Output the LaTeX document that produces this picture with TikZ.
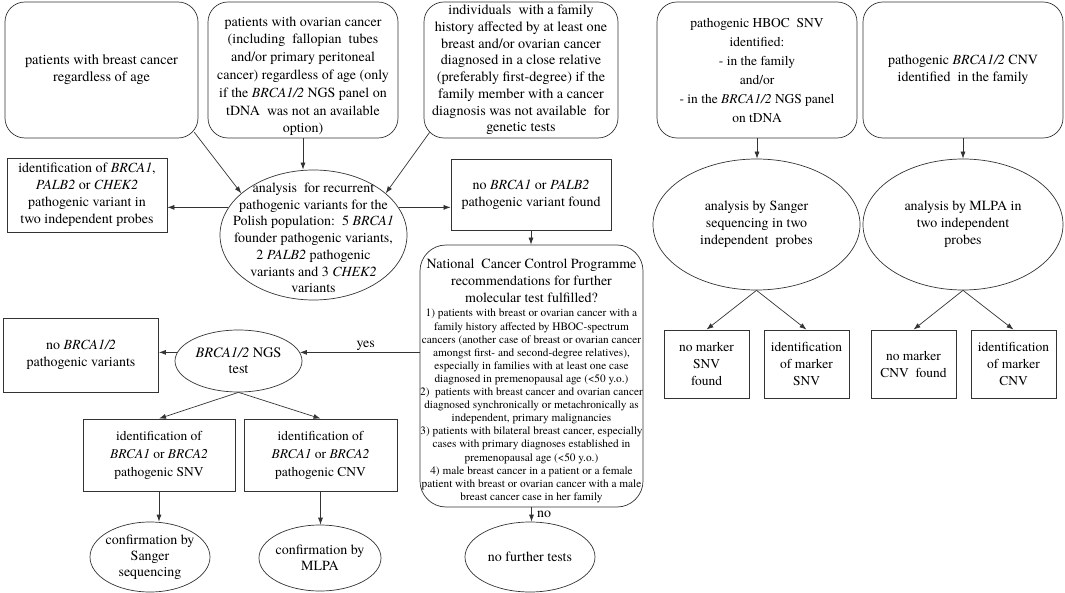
\documentclass[tikz,border=0pt]{standalone}
\usepackage{fontspec}
\IfFontExistsTF{texgyretermes-regular.otf}
  {\setmainfont{texgyretermes-regular.otf}[ItalicFont=texgyretermes-italic.otf, BoldFont=texgyretermes-bold.otf]}
  {\setmainfont{Liberation Serif}}
\usepackage{tikz}
\usetikzlibrary{shapes,arrows.meta,calc}
\tikzstyle{rbox}=[draw=black!80, line width=0.7pt, rounded corners=20pt, inner sep=0pt, align=center, font=\fontsize{14}{17}\selectfont]
\tikzstyle{sbox}=[draw=black!80, line width=0.8pt, inner sep=0pt, align=center, font=\fontsize{14}{17}\selectfont]
\tikzstyle{oval}=[draw=black!80, line width=0.7pt, ellipse, inner sep=0pt, align=center, font=\fontsize{14}{17}\selectfont]
\tikzstyle{plain}=[inner sep=0pt, align=center]
\tikzstyle{lbl}=[font=\fontsize{14}{16}\selectfont]
\tikzstyle{arr}=[-{Latex[length=7pt,width=5pt]}, draw=black!80, line width=0.7pt]
\newcommand{\gene}[1]{\textit{#1}}

\begin{document}
\begin{tikzpicture}[x=1pt,y=-1pt]
	\useasboundingbox (0,0) rectangle (1065,593);
	% who is tested
	\node[rbox, minimum width=193pt, minimum height=136pt, font=\fontsize{14.4}{16.7}\selectfont] (brc) at (101.5,70) {patients with breast cancer\\regardless of age};
	\node[rbox, minimum width=190pt, minimum height=136pt, font=\fontsize{14}{17.8}\selectfont] (ova) at (303,70) {\rule{0pt}{22pt}patients with ovarian cancer\\(including\ \ fallopian\ \ tubes\\and/or primary peritoneal\\cancer) regardless of age (only\\if the \gene{BRCA1/2} NGS panel on\\tDNA\ \ was not an available\\option)};
	\node[rbox, minimum width=194pt, minimum height=136pt, font=\fontsize{14.2}{16.7}\selectfont] (fam) at (521,70) {individuals\ \ with a family\\history affected by at least one\\breast and/or ovarian cancer\\diagnosed in a close relative\\(preferably first-degree) if the\\family member with a cancer\\diagnosis was not available\ \ for\\genetic tests};
	\node[rbox, minimum width=200pt, minimum height=136pt, font=\fontsize{13.5}{19}\selectfont] (hsnv) at (757,70) {pathogenic HBOC\ \ SNV\\identified:\\- in the family\\and/or\\- in the \gene{BRCA1/2} NGS panel\\on tDNA};
	\node[rbox, minimum width=200pt, minimum height=136pt] (hcnv) at (963,70) {pathogenic \gene{BRCA1/2} CNV\\identified\ \ in the family};

	% founder variants
	\node[oval, minimum width=187pt, minimum height=130pt] (anl) at (313.5,235) {};
	\node[plain, font=\fontsize{14}{16.7}\selectfont] (anltx) at (313.5,238) {analysis\ \ for recurrent\\pathogenic variants for the\\Polish population:\ \ 5 \gene{BRCA1}\\founder pathogenic variants,\\2 \gene{PALB2} pathogenic\\variants and 3 \gene{CHEK2}\\variants};
	\node[sbox, minimum width=160pt, minimum height=74pt] (idl) at (87,195) {identification of \gene{BRCA1},\\\gene{PALB2} or \gene{CHEK2}\\pathogenic variant in\\two independent probes};
	\node[sbox, minimum width=160pt, minimum height=71pt] (nob) at (531,194.5) {no \gene{BRCA1} or \gene{PALB2}\\pathogenic variant found};

	% programme criteria
	\node[draw=black!80, line width=0.7pt, rounded corners=26pt, minimum width=223pt, minimum height=262pt] (nat) at (531.5,376) {};
	\node[plain, font=\fontsize{14}{17}\selectfont] (natt) at (531.5,281) {National\ \ Cancer Control Programme\\recommendations for further\\molecular test fulfilled?};
	\node[plain, font=\fontsize{11.3}{13.1}\selectfont] (nati) at (531.5,406) {1) patients with breast or ovarian cancer with a\\family history affected by HBOC-spectrum\\cancers (another case of breast or ovarian cancer\\amongst first- and second-degree relatives),\\especially in families with at least one case\\diagnosed in premenopausal age (<50 y.o.)\\2)\ \ patients with breast cancer and ovarian cancer\\diagnosed synchronically or metachronically as\\independent, primary malignancies\\3) patients with bilateral breast cancer, especially\\cases with primary diagnoses established in\\premenopausal age (<50 y.o.)\\4) male breast cancer in a patient or a female\\patient with breast or ovarian cancer with a male\\breast cancer case in her family};
	\node[oval, minimum width=130pt, minimum height=70pt, inner sep=-3pt] (nft) at (530,557) {no further tests};

	% NGS branch
	\node[oval, minimum width=127pt, minimum height=62pt, inner sep=-3pt, font=\fontsize{14.4}{16}\selectfont] (ngs) at (238.5,361) {\gene{BRCA1/2} NGS\\test};
	\node[sbox, minimum width=155pt, minimum height=74pt] (nov) at (81,355) {no \gene{BRCA1/2}\\pathogenic variants};
	\node[sbox, minimum width=152pt, minimum height=72pt, font=\fontsize{13.5}{18}\selectfont] (snv) at (159,455) {identification of\\\gene{BRCA1} or \gene{BRCA2}\\pathogenic SNV};
	\node[sbox, minimum width=153pt, minimum height=72pt, font=\fontsize{13.5}{18}\selectfont] (cnv) at (320.5,455) {identification of\\\gene{BRCA1} or \gene{BRCA2}\\pathogenic CNV};
	\node[oval, minimum width=120pt, minimum height=70pt, inner sep=-4pt, font=\fontsize{14}{16}\selectfont] (csq) at (150,557) {confirmation by\\Sanger\\sequencing};
	\node[oval, minimum width=122pt, minimum height=66pt, inner sep=-4pt, font=\fontsize{14}{16}\selectfont] (cml) at (320,558) {confirmation by\\MLPA};

	% family markers
	\node[oval, minimum width=207pt, minimum height=131pt] (ssq) at (756.5,224.5) {analysis by Sanger\\sequencing in two\\independent\ \ probes};
	\node[oval, minimum width=200pt, minimum height=131pt] (mlp) at (963,224.5) {analysis by MLPA in\\two independent\\probes};
	\node[sbox, minimum width=85pt, minimum height=68pt, font=\fontsize{13.5}{17}\selectfont] (nms) at (706.5,364) {no marker\\SNV\\found};
	\node[sbox, minimum width=85pt, minimum height=68pt, font=\fontsize{13.5}{17}\selectfont] (ims) at (806.5,364) {identification\\of marker\\SNV};
	\node[sbox, minimum width=85pt, minimum height=68pt, font=\fontsize{13.5}{17}\selectfont] (nmc) at (913.5,364) {no marker\\CNV\ \ found};
	\node[sbox, minimum width=85pt, minimum height=68pt, font=\fontsize{13.5}{17}\selectfont] (imc) at (1013.5,364) {identification\\of marker\\CNV};

	\draw[arr] ($(brc.south east)+(-4,-6)$) -- (anl.150);
	\draw[arr] (ova.south) -- (ova.south |- anl.north);
	\draw[arr] ($(fam.south west)+(5.9,-5.9)$) -- (anl.30);
	\draw[arr] (anl.162) -- (idl.east |- anl.162);
	\draw[arr] (anl.18) -- (nob.west |- anl.18);
	\draw[arr] (nob.south) -- (nob.south |- nat.north);
	\draw[arr] (nat.west |- ngs.8) -- (ngs.8) node[lbl, pos=0.45, above=-2pt] (yes) {yes};
	\draw[arr] (nat.south) -- (nat.south |- nft.north) node[lbl, midway, right=2pt] (no) {no};
	\draw[arr] (ngs.172) -- (nov.east |- ngs.172);
	\draw[arr] (ngs.south) -- (snv.north);
	\draw[arr] (ngs.south) -- (cnv.north);
	\draw[arr] (snv.south) -- (snv.south |- csq.north);
	\draw[arr] (cnv.south) -- (cnv.south |- cml.north);
	\draw[arr] (hsnv.south) -- (hsnv.south |- ssq.north);
	\draw[arr] (hcnv.south) -- (hcnv.south |- mlp.north);
	\draw[arr] (ssq.south) -- (nms.north);
	\draw[arr] (ssq.south) -- (ims.north);
	\draw[arr] (mlp.south) -- (nmc.north);
	\draw[arr] (mlp.south) -- (imc.north);
\end{tikzpicture}
\end{document}
